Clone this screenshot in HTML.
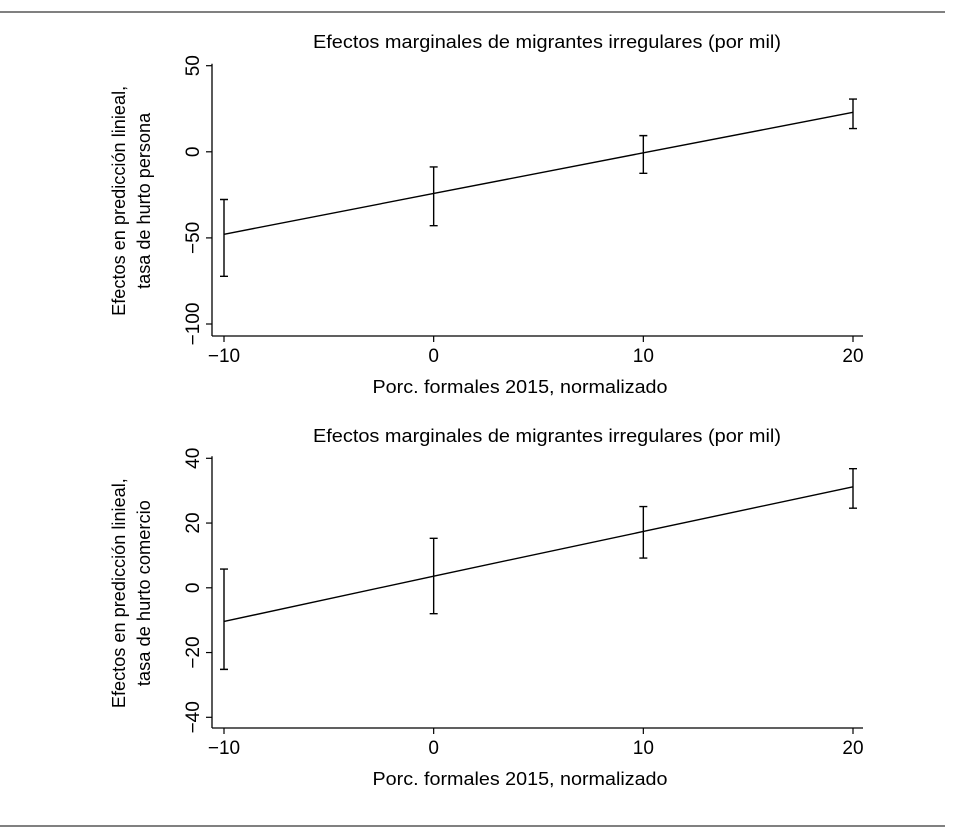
<!DOCTYPE html>
<html><head><meta charset="utf-8"><style>
body{margin:0;background:#fff;}
svg text{font-family:"Liberation Sans",sans-serif;fill:#000;}
</style></head><body>
<svg id="c" width="959" height="834">
<line x1="0" y1="12" x2="945" y2="12" stroke="#000" stroke-width="1"/>
<line x1="0" y1="826" x2="945" y2="826" stroke="#000" stroke-width="1"/>
</svg>
<script>
const xCats=[-10,0,10,20];
const xTicks=[-10,0,10,20];
const topMean=[-47.9,-24.2,-0.6,22.9];
const topHi=[-27.7,-8.8,9.4,30.6];
const topLo=[-72.3,-42.9,-12.5,13.5];
const topYTicks=[-100,-50,0,50];
const botMean=[-10.4,3.6,17.4,31.2];
const botHi=[5.8,15.3,25.1,36.8];
const botLo=[-25.2,-8.0,9.2,24.6];
const botYTicks=[-40,-20,0,20,40];
const title="Efectos marginales de migrantes irregulares (por mil)";
const xLabel="Porc. formales 2015, normalizado";

const svg=document.getElementById('c');
const NS='http://www.w3.org/2000/svg';
function mk(t,a,txt){const e=document.createElementNS(NS,t);for(const k in a)e.setAttribute(k,a[k]);if(txt!=null)e.textContent=txt;svg.appendChild(e);return e;}

function panel(p,mean,hi,lo,yTicks,yMin,yMax,yPxMin,yPxMax,axisY,ylab2){
  const xs=v=>224+(v+10)*(853-224)/30;
  const ys=v=>yPxMin+(v-yMin)*(yPxMax-yPxMin)/(yMax-yMin);
  let e;
  e=mk('text',{x:547,y:p.titleY,'text-anchor':'middle','font-size':18,textLength:468,lengthAdjust:'spacingAndGlyphs'},title);
  
  
  e=mk('line',{x1:212,y1:ys(yMax)-2,x2:212,y2:axisY,stroke:'#000','stroke-width':1.3});
  
  
  e=mk('line',{x1:212,y1:axisY,x2:863,y2:axisY,stroke:'#000','stroke-width':1.3});
  
  
  yTicks.forEach(t=>{
    e=mk('line',{x1:206,y1:ys(t),x2:212,y2:ys(t),stroke:'#000','stroke-width':1.2});
    
    
    e=mk('text',{x:0,y:0,'text-anchor':'middle','font-size':19,transform:`translate(199,${ys(t)}) rotate(-90)`},String(t).replace('-','−'));
    
    
  });
  xTicks.forEach(t=>{
    e=mk('line',{x1:xs(t),y1:axisY,x2:xs(t),y2:axisY+6,stroke:'#000','stroke-width':1.2});
    
    
    e=mk('text',{x:xs(t),y:axisY+26,'text-anchor':'middle','font-size':19},String(t).replace('-','−'));
    
    
  });
  e=mk('text',{x:520,y:axisY+57,'text-anchor':'middle','font-size':18,textLength:295,lengthAdjust:'spacingAndGlyphs'},xLabel);
  
  
  const cy=(ys(yMax)+axisY)/2;
  e=mk('text',{x:0,y:0,'text-anchor':'middle','font-size':18,textLength:230,lengthAdjust:'spacingAndGlyphs',transform:`translate(125,${cy}) rotate(-90)`},'Efectos en predicción linieal,');
  
  
  e=mk('text',{x:0,y:0,'text-anchor':'middle','font-size':18,textLength:p.l2,lengthAdjust:'spacingAndGlyphs',transform:`translate(150,${cy}) rotate(-90)`},ylab2);
  
  
  e=mk('polyline',{points:xCats.map((c,i)=>xs(c)+','+ys(mean[i])).join(' '),fill:'none',stroke:'#000','stroke-width':1.4});
  
  
  xCats.forEach((c,i)=>{
    const x=xs(c);
    e=mk('path',{d:`M${x},${ys(hi[i])}V${ys(lo[i])}M${x-4},${ys(hi[i])}H${x+4}M${x-4},${ys(lo[i])}H${x+4}`,fill:'none',stroke:'#000','stroke-width':1.4});
    
    
  });
}
panel({id:'top-panel',titleY:48,l2:176},topMean,topHi,topLo,topYTicks,-100,50,324,65.7,336,'tasa de hurto persona');
panel({id:'bottom-panel',titleY:442,l2:186},botMean,botHi,botLo,botYTicks,-40,40,717.3,458.3,728,'tasa de hurto comercio');
</script>
</body></html>
